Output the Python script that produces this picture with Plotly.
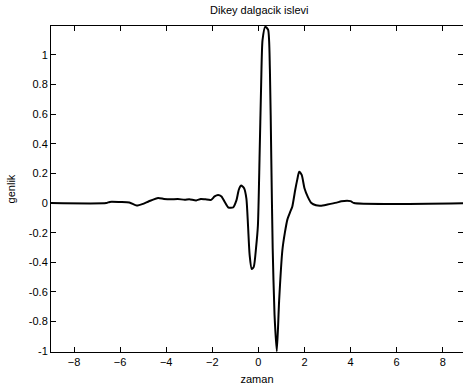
import plotly.graph_objects as go

zaman = [-9.0, -6.6, -6.45, -6.0, -5.6, -5.28, -5.0, -4.75, -4.35, -4.1, -3.8, -3.5, -3.2,
         -3.0, -2.7, -2.5, -2.3, -2.05, -1.9, -1.75, -1.6, -1.45, -1.3, -1.1, -0.95,
         -0.85, -0.75, -0.62, -0.52, -0.45, -0.38, -0.29, -0.2, -0.1, -0.02, 0.05,
         0.12, 0.18, 0.3, 0.42, 0.5, 0.56, 0.62, 0.7, 0.8, 0.9, 1.04, 1.15, 1.26,
         1.38, 1.47, 1.6, 1.69, 1.77, 1.88, 2.0, 2.15, 2.3, 2.5, 2.7, 3.0, 3.4,
         3.6, 4.0, 4.15, 9.0]
genlik = [0.0, 0.0, 0.008, 0.007, 0.004, -0.017, -0.005, 0.012, 0.035, 0.028, 0.025,
          0.028, 0.022, 0.026, 0.018, 0.028, 0.025, 0.022, 0.045, 0.055, 0.045, 0.005,
          -0.03, -0.03, 0.02, 0.09, 0.118, 0.1, 0.03, -0.15, -0.35, -0.445, -0.43,
          -0.3, -0.15, 0.3, 0.8, 1.1, 1.19, 1.17, 0.9, 0.3, -0.3, -0.75, -1.0, -0.66,
          -0.32, -0.2, -0.11, -0.06, -0.025, 0.09, 0.16, 0.212, 0.19, 0.1, 0.04, 0.0,
          -0.015, -0.018, -0.01, 0.003, 0.012, 0.013, 0.0, 0.0]

x_ticks = [-8, -6, -4, -2, 0, 2, 4, 6, 8]
y_ticks = [-1, -0.8, -0.6, -0.4, -0.2, 0, 0.2, 0.4, 0.6, 0.8, 1]
y_labels = ["-1", "-0.8", "-0.6", "-0.4", "-0.2", "0", "0.2", "0.4", "0.6", "0.8", "1"]

FONT = dict(family="Liberation Sans, Arial", size=11, color="black")

fig = go.Figure()
fig.add_trace(go.Scatter(x=zaman, y=genlik, mode="lines",
                         line=dict(color="black", width=2, shape="spline", smoothing=0.6),
                         showlegend=False, hoverinfo="skip"))

axis_common = dict(showgrid=False, zeroline=False, showline=True, linecolor="black",
                   linewidth=1, mirror="ticks", ticks="inside", ticklen=5,
                   tickcolor="black", tickfont=FONT, automargin=False)

fig.update_layout(
    width=463, height=389,
    margin=dict(l=51, r=0, t=26, b=37, autoexpand=False),
    paper_bgcolor="white", plot_bgcolor="white",
    title=dict(text="Dikey dalgacik islevi", x=0.56, xanchor="center", y=0.974, yanchor="middle",
               font=FONT),
    xaxis=dict(range=[-9, 8.88], tickvals=x_ticks,
               title=dict(text="zaman", standoff=8, font=FONT),
               **axis_common),
    yaxis=dict(range=[-1.005, 1.195], tickvals=y_ticks, ticktext=y_labels,
               title=dict(text="genlik", standoff=10, font=FONT),
               **axis_common),
)

fig.write_html("out.html", config={"displayModeBar": False},
               post_script="document.body.style.margin='0';document.body.style.overflow='hidden';")
